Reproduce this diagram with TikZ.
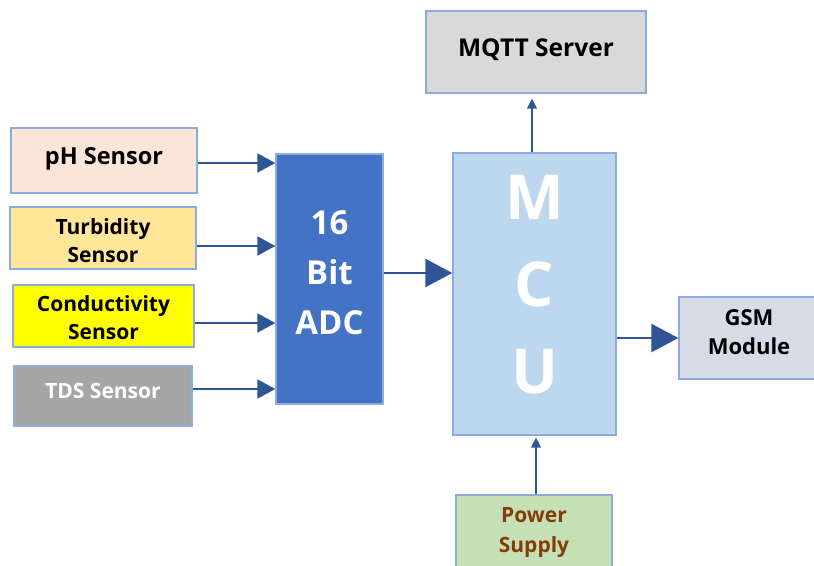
\documentclass[tikz,border=0pt]{standalone}
\usepackage{fontspec}
\setmainfont{Open Sans}
\usetikzlibrary{arrows.meta, calc}

\definecolor{edge}{HTML}{8FAADC}
\definecolor{arrowblue}{HTML}{2F5597}
\definecolor{phfill}{HTML}{FBE5D6}
\definecolor{turbfill}{HTML}{FFE699}
\definecolor{condfill}{HTML}{FFFF00}
\definecolor{tdsfill}{HTML}{A5A5A5}
\definecolor{adcfill}{HTML}{4472C4}
\definecolor{mcufill}{HTML}{BDD7EE}
\definecolor{mqttfill}{HTML}{D9D9D9}
\definecolor{gsmfill}{HTML}{D6DCE5}
\definecolor{pwrfill}{HTML}{C5E0B4}
\definecolor{pwrtext}{HTML}{843C0C}

\tikzset{
  block/.style={draw=edge, line width=1.3pt, inner sep=0pt},
  txt/.style={align=center, inner sep=0pt, font=\bfseries\fontsize{21}{28}\selectfont},
  link/.style={draw=arrowblue, line width=2pt, -{Triangle[length=18pt, width=19pt]}},
  biglink/.style={draw=arrowblue, line width=2.5pt, -{Triangle[length=27pt, width=28pt]}},
  thinlink/.style={draw=arrowblue, line width=1.5pt, -{Triangle[length=10pt, width=10pt]}},
}

\begin{document}
\begin{tikzpicture}[x=1pt, y=-1pt]
  \useasboundingbox (0,0) rectangle (814,565);

  % sensors
  \node[block, fill=phfill, minimum width=186pt, minimum height=65pt,
        label={[txt, yshift=1.5pt, font=\bfseries\fontsize{23.5}{28}\selectfont]center:pH Sensor}]
        (ph) at (104,160.5) {};
  \node[block, fill=turbfill, minimum width=186pt, minimum height=62pt,
        label={[txt, yshift=-2.5pt]center:Turbidity\\Sensor}] (turb) at (103,238) {};
  \node[block, fill=condfill, minimum width=181pt, minimum height=62pt,
        label={[txt, yshift=-1.5pt]center:Conductivity\\Sensor}] (cond) at (103.5,316) {};
  \node[block, fill=tdsfill, minimum width=178pt, minimum height=60pt,
        label={[txt, text=white, yshift=5pt]center:TDS Sensor}] (tds) at (103,396) {};

  % converter and controller
  \node[block, fill=adcfill, minimum width=107pt, minimum height=250pt,
        label={[txt, text=white, yshift=6pt, font=\bfseries\fontsize{33}{50}\selectfont]center:16\\Bit\\ADC}]
        (adc) at (329.5,279) {};
  \node[block, fill=mcufill, minimum width=163pt, minimum height=282pt,
        label={[txt, text=white, yshift=9pt, font=\bfseries\fontsize{62}{87}\selectfont]center:M\\C\\U}]
        (mcu) at (534.5,294) {};

  % outputs and supply
  \node[block, fill=mqttfill, minimum width=220pt, minimum height=82pt,
        label={[txt, yshift=2pt, font=\bfseries\fontsize{24.5}{28}\selectfont]center:MQTT Server}]
        (mqtt) at (536,52) {};
  \node[block, fill=gsmfill, minimum width=140pt, minimum height=82pt,
        label={[txt, yshift=5.5pt, font=\bfseries\fontsize{22}{29}\selectfont]center:GSM\\Module}]
        (gsm) at (749,338) {};
  \node[block, fill=pwrfill, minimum width=156pt, minimum height=80pt,
        label={[txt, text=pwrtext, yshift=2pt, font=\bfseries\fontsize{21}{30}\selectfont]center:Power\\Supply}]
        (pwr) at (534,535) {};

  % sensor lines into the ADC
  \draw[link] (ph.east |- 0,163) -- (adc.west |- 0,163);
  \draw[link] (turb.east |- 0,246) -- (adc.west |- 0,246);
  \draw[link] (cond.east |- 0,323) -- (adc.west |- 0,323);
  \draw[link] (tds.east |- 0,389) -- (adc.west |- 0,389);

  \draw[biglink] (adc.east |- 0,273) -- (mcu.west |- 0,273);
  \draw[biglink] (mcu.east |- 0,338) -- (gsm.west);

  \draw[thinlink, shorten >=5pt] (mcu.north -| 532,0) -- (mqtt.south -| 532,0);
  \draw[thinlink, shorten >=2pt] (pwr.north -| 536,0) -- (mcu.south -| 536,0);
\end{tikzpicture}
\end{document}
